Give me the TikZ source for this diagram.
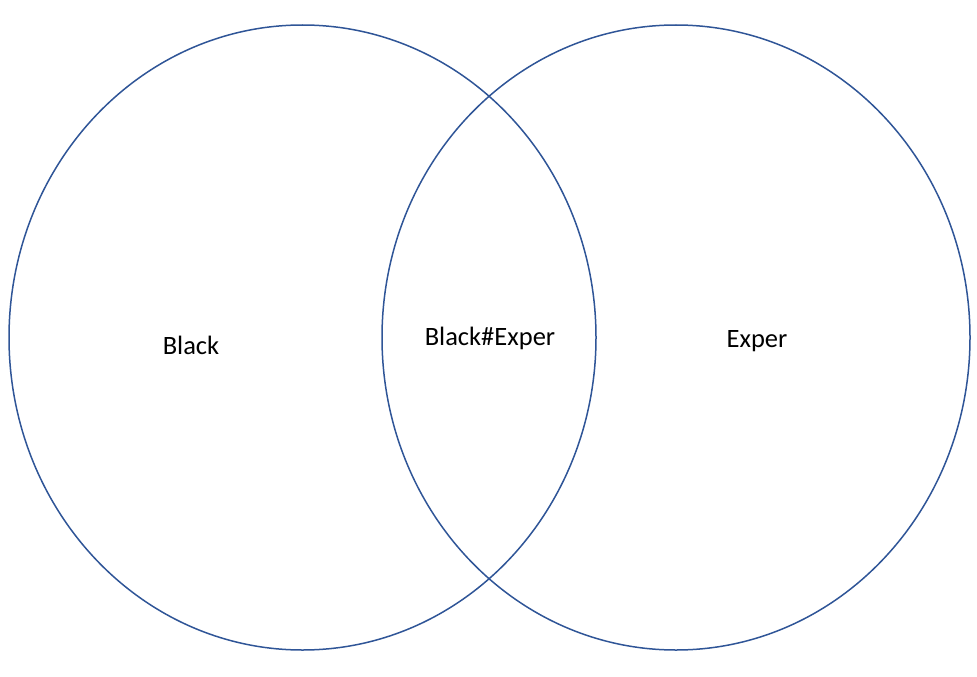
\documentclass[tikz,border=0pt]{standalone}
\usepackage{fontspec}
\setmainfont{Carlito}
\definecolor{ring}{HTML}{2F5597}
\begin{document}
\begin{tikzpicture}[x=1pt,y=-1pt,
  ringstyle/.style={draw=ring,line width=1.5pt},
  lbl/.style={font=\fontsize{26.5}{30}\selectfont,text=black,inner sep=0pt}]
\useasboundingbox (0,0) rectangle (977,677);
\draw[ringstyle] (302.5,337.5) ellipse [x radius=293.5, y radius=312.5];
\draw[ringstyle] (676,337.5) ellipse [x radius=294, y radius=312.5];
\node[lbl] (a) at (191,345) {Black};
\node[lbl] (ab) at (490,338) {Black\#Exper};
\node[lbl] (b) at (757,341) {Exper};
\end{tikzpicture}
\end{document}
